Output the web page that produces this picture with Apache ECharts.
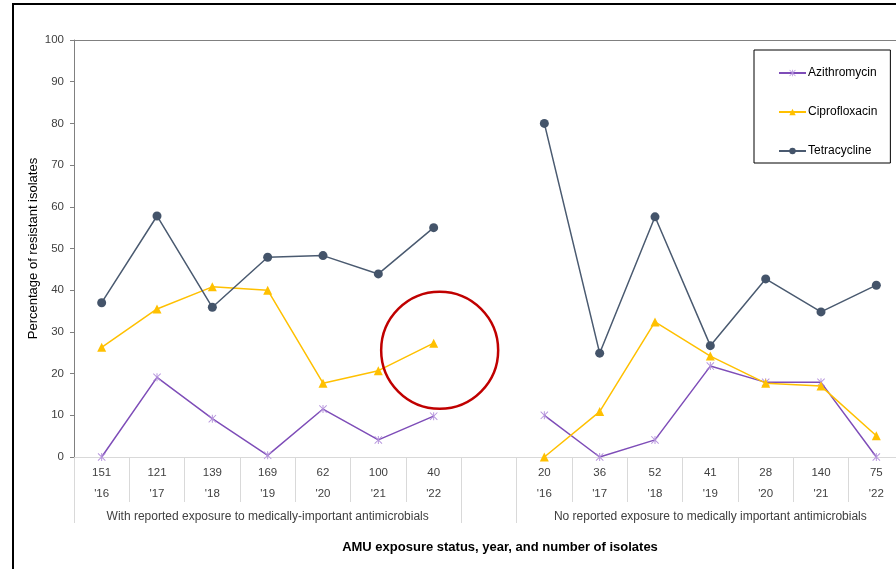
<!DOCTYPE html>
<html>
<head>
<meta charset="utf-8">
<title>Resistance by AMU exposure status</title>
<script src="https://cdn.jsdelivr.net/npm/echarts@6/dist/echarts.min.js"></script>
<style>
  html, body { margin: 0; padding: 0; background: #ffffff; overflow: hidden; }
  /* The plot area runs slightly past the right edge of the window */
  #chart { width: 912px; height: 569px; }
</style>
</head>
<body>
<div id="chart"></div>
<script>
// Isolate counts and years for each group
const years = ["'16", "'17", "'18", "'19", "'20", "'21", "'22"];
const countsExposed = ['151', '121', '139', '169', '62', '100', '40'];
const countsNotExposed = ['20', '36', '52', '41', '28', '140', '75'];
const groupNames = [
  'With reported exposure to medically-important antimicrobials',
  'No reported exposure to medically important antimicrobials'
];

// Percentage of resistant isolates, per drug and group
const aziExposed = [0, 19.1, 9.2, 0.4, 11.5, 4.1, 9.8];
const aziNotExposed = [10.0, 0, 4.1, 21.8, 17.9, 17.9, 0];
const ciproExposed = [26.3, 35.5, 40.8, 40.0, 17.7, 20.7, 27.3];
const ciproNotExposed = [0, 10.9, 32.4, 24.2, 17.7, 17.0, 5.1];
const tetraExposed = [37.0, 57.8, 35.9, 47.9, 48.3, 43.9, 55.0];
const tetraNotExposed = [80.0, 24.9, 57.6, 26.7, 42.7, 34.8, 41.2];

// Category slots: group 1, an empty spacer slot, group 2
const categories = [];
countsExposed.forEach((c, i) => categories.push(c + '\n' + years[i]));
categories.push('');
countsNotExposed.forEach((c, i) => categories.push(c + '\n' + years[i]));

const gapIndex = countsExposed.length;
const groupLabelIndex = [3, gapIndex + 1 + 3];

function joinGroups(a, b) { return a.concat([null], b); }

// Asterisk marker made of three thin bars
const asterisk = 'path://M4.4 0H5.6V10H4.4Z M0 0.8L0.8 0L10 9.2L9.2 10Z M9.2 0L10 0.8L0.8 10L0 9.2Z';

const font = 'Liberation Sans, Arial, sans-serif';
const chart = echarts.init(document.getElementById('chart'), null, { renderer: 'canvas' });

chart.setOption({
  backgroundColor: '#ffffff',
  animation: false,
  textStyle: { fontFamily: font },
  graphic: [{
    type: 'rect',
    shape: { x: 13, y: 4, width: 1000, height: 1000 },
    style: { fill: 'none', stroke: '#000000', lineWidth: 2 },
    silent: true
  }],
  legend: {
    orient: 'vertical',
    left: 754,
    top: 50,
    padding: [17, 13, 6, 24],
    itemGap: 27,
    itemWidth: 27,
    itemHeight: 8,
    borderColor: '#000000',
    borderWidth: 1,
    textStyle: { fontFamily: font, fontSize: 12, color: '#000000', padding: [0, 0, 0, -3] },
    data: ['Azithromycin', 'Ciprofloxacin', 'Tetracycline']
  },
  grid: { left: 74, top: 40, width: 830, height: 417, containLabel: false },
  xAxis: [
    {
      type: 'category',
      data: categories,
      position: 'bottom',
      boundaryGap: true,
      axisLine: { show: true, lineStyle: { color: '#d9d9d9', width: 1 } },
      axisTick: { show: true, interval: 0, length: 45, lineStyle: { color: '#d9d9d9' } },
      axisLabel: {
        interval: 0, color: '#404040', fontSize: 11.5, lineHeight: 21,
        margin: 5, fontFamily: font
      },
      name: 'AMU exposure status, year, and number of isolates',
      nameLocation: 'middle',
      nameGap: 84,
      nameMoveOverlap: false,
      nameTextStyle: { fontFamily: font, fontSize: 13, fontWeight: 'bold', color: '#000000', padding: [0, 0, 0, 22] }
    },
    {
      type: 'category',
      data: categories,
      position: 'bottom',
      boundaryGap: true,
      axisLine: { show: false },
      axisTick: {
        show: true, length: 66, lineStyle: { color: '#d9d9d9' },
        interval: (i) => i === 0 || i === gapIndex || i === gapIndex + 1
      },
      axisLabel: {
        interval: 0, color: '#404040', fontSize: 12, margin: 54, fontFamily: font,
        formatter: (v, i) => i === groupLabelIndex[0] ? groupNames[0] : (i === groupLabelIndex[1] ? groupNames[1] : '')
      }
    },
    {
      type: 'category',
      data: categories,
      position: 'top',
      axisLine: { show: true, lineStyle: { color: '#808080', width: 1 } },
      axisTick: { show: false },
      axisLabel: { show: false }
    }
  ],
  yAxis: {
    type: 'value',
    min: 0,
    max: 100,
    interval: 10,
    splitLine: { show: false },
    axisLine: { show: true, lineStyle: { color: '#808080', width: 1 } },
    axisTick: { show: true, length: 4, lineStyle: { color: '#808080' } },
    axisLabel: { color: '#404040', fontSize: 11.5, margin: 10, fontFamily: font },
    name: 'Percentage of resistant isolates',
    nameLocation: 'middle',
    nameGap: 34,
    nameMoveOverlap: false,
    nameRotate: 90,
    nameTextStyle: { fontFamily: font, fontSize: 13, color: '#000000' }
  },
  series: [
    {
      name: 'Azithromycin',
      type: 'line',
      data: joinGroups(aziExposed, aziNotExposed),
      connectNulls: false,
      symbol: asterisk,
      symbolSize: 8,
      showSymbol: true,
      lineStyle: { color: '#7E4DB8', width: 1.5 },
      itemStyle: { color: '#B594DC' },
      z: 3
    },
    {
      name: 'Ciprofloxacin',
      type: 'line',
      data: joinGroups(ciproExposed, ciproNotExposed),
      connectNulls: false,
      symbol: 'triangle',
      symbolSize: 9,
      lineStyle: { color: '#FFC000', width: 1.5 },
      itemStyle: { color: '#FFC000' },
      z: 4,
      markPoint: {
        silent: true,
        symbol: 'circle',
        symbolSize: 117,
        symbolOffset: [6, 7],
        label: { show: false },
        itemStyle: { color: 'rgba(0,0,0,0)', borderColor: '#C00000', borderWidth: 2.5 },
        data: [{ coord: [gapIndex - 1, ciproExposed[gapIndex - 1]] }]
      }
    },
    {
      name: 'Tetracycline',
      type: 'line',
      data: joinGroups(tetraExposed, tetraNotExposed),
      connectNulls: false,
      symbol: 'circle',
      symbolSize: 9,
      lineStyle: { color: '#4A5A70', width: 1.5 },
      itemStyle: { color: '#44546A' },
      z: 5
    }
  ]
});
</script>
</body>
</html>
